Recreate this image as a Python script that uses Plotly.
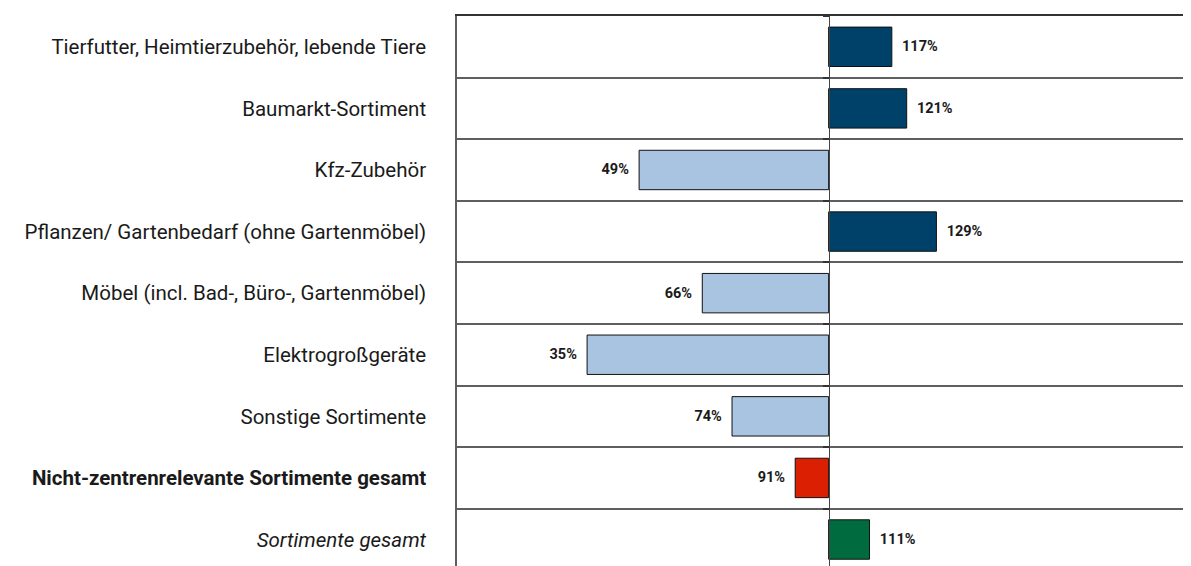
import plotly.graph_objects as go

# categories listed bottom to top
categories = [
    "<i>Sortimente gesamt</i>",
    "<b>Nicht-zentrenrelevante Sortimente gesamt</b>",
    "Sonstige Sortimente",
    "Elektrogroßgeräte",
    "Möbel (incl. Bad-, Büro-, Gartenmöbel)",
    "Pflanzen/ Gartenbedarf (ohne Gartenmöbel)",
    "Kfz-Zubehör",
    "Baumarkt-Sortiment",
    "Tierfutter, Heimtierzubehör, lebende Tiere",
]
values = [111, 91, 74, 35, 66, 129, 49, 121, 117]

base_value = 100
x_max = 197.5

def bar_colour(i, v):
    if i == 0:
        return "#006B3F"
    if i == 1:
        return "#DB1F03"
    return "#00416A" if v >= base_value else "#A9C4E0"

colours = [bar_colour(i, v) for i, v in enumerate(values)]
labels = [f"  {v}%" if v >= base_value else f"{v}%  " for v in values]

fig = go.Figure()
fig.add_trace(go.Bar(
    y=categories,
    x=[v - base_value for v in values],
    base=base_value,
    orientation="h",
    marker=dict(color=colours, line=dict(color="#111111", width=1)),
    width=0.64,
    text=labels,
    textposition="outside",
    cliponaxis=False,
    textfont=dict(family="Roboto", size=14.5, color="#1a1a1a", weight="bold"),
    hoverinfo="skip",
))
# invisible trace so the axis crossing at 100% gets its boundary ticks
fig.add_trace(go.Scatter(
    y=categories,
    x=[base_value] * len(categories),
    yaxis="y2",
    mode="markers",
    marker=dict(opacity=0),
    hoverinfo="skip",
))

fig.update_layout(
    width=1183,
    height=558,
    margin=dict(l=449, r=0, t=8, b=0),
    plot_bgcolor="white",
    paper_bgcolor="white",
    showlegend=False,
    font=dict(family="Roboto", size=20.5, color="#1a1a1a"),
    yaxis2=dict(
        type="category",
        overlaying="y",
        matches="y",
        anchor="free",
        position=base_value / x_max,
        tickson="boundaries",
        showline=True,
        linecolor="#444444",
        linewidth=1,
        ticks="outside",
        ticklen=6,
        tickwidth=2,
        tickcolor="#333333",
        showticklabels=False,
        showgrid=False,
    ),
)
fig.update_xaxes(
    range=[0, x_max],
    side="top",
    showline=True,
    linecolor="#333333",
    linewidth=2,
    showticklabels=False,
    ticks="",
    showgrid=False,
    zeroline=False,
)
fig.update_yaxes(
    selector=dict(overlaying=None),
    type="category",
    range=[-0.43, 8.5],
    tickson="boundaries",
    showgrid=True,
    gridcolor="#5f5f5f",
    gridwidth=1.5,
    showline=True,
    linecolor="#5f5f5f",
    linewidth=1.5,
    ticks="",
    ticklabelstandoff=25,
)

fig.write_html("out.html")
